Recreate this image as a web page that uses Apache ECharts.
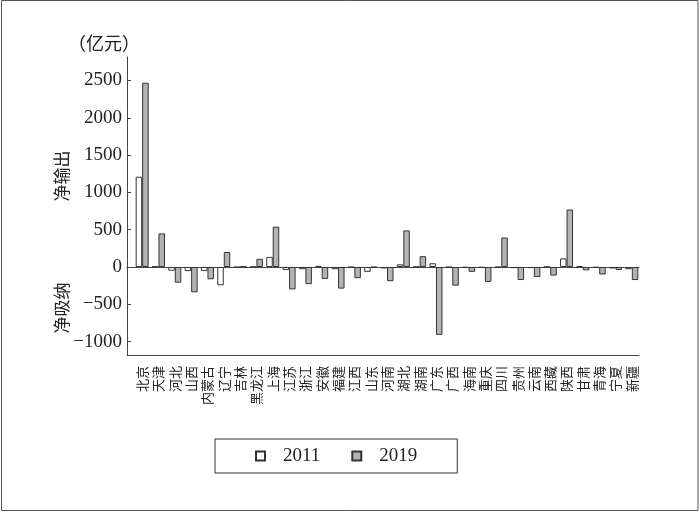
<!DOCTYPE html>
<html>
<head>
<meta charset="utf-8">
<script src="https://cdn.jsdelivr.net/npm/echarts@6/dist/echarts.min.js"></script>
<style>
html,body{margin:0;padding:0;background:#fff;}
#c{width:700px;height:513px;}
</style>
</head>
<body>
<div id="c"></div>
<script>
const provinces = ['北京','天津','河北','山西','内蒙古','辽宁','吉林','黑龙江','上海','江苏','浙江','安徽','福建','江西','山东','河南','湖北','湖南','广东','广西','海南','重庆','四川','贵州','云南','西藏','陕西','甘肃','青海','宁夏','新疆'];
const values2011 = [1210, 5, -50, -55, -55, -245, -5, 0, 135, -40, -30, 15, -30, -5, -65, -20, 35, 0, 50, -5, -10, -10, -5, -15, -15, 0, 115, 10, -10, -20, -30];
const values2019 = [2470, 450, -210, -340, -165, 200, 5, 110, 540, -300, -230, -160, -290, -150, -5, -190, 490, 145, -910, -250, -65, -200, 395, -175, -135, -115, 770, -45, -100, -40, -175];
const yTicks = [-1000, -500, 0, 500, 1000, 1500, 2000, 2500];
const seriesNames = ['2011', '2019'];

const FONT = "'Liberation Serif', 'Noto Sans CJK SC', serif";
const CJK = "'Noto Sans CJK SC', sans-serif";
const AX = '#444';
const yMin = -1180, yMax = 2815;

const chart = echarts.init(document.getElementById('c'), null, {renderer: 'canvas'});
chart.setOption({
  backgroundColor: '#fff',
  animation: false,
  grid: [
    {left: 134, right: 60, top: 57, bottom: 158},
    {left: 127, right: 61, top: 57, bottom: 158}
  ],
  legend: {
    data: seriesNames,
    left: 215, top: 439,
    padding: [7, 40, 7, 40],
    borderColor: '#333', borderWidth: 1,
    itemWidth: 9, itemHeight: 9, itemGap: 31,
    icon: 'rect',
    textStyle: {fontFamily: FONT, fontSize: 19, color: '#222', lineHeight: 20, padding: [0, 0, 0, 13]}
  },
  xAxis: [
    {
      type: 'category', gridIndex: 0, data: provinces, position: 'bottom',
      axisLine: {show: false}, axisTick: {show: false},
      axisLabel: {rotate: 90, interval: 0, margin: 11, fontSize: 13, fontFamily: CJK, color: '#222'}
    },
    {
      type: 'value', gridIndex: 1, min: 0, max: 1, position: 'bottom',
      axisLine: {show: true, onZero: false, lineStyle: {color: AX, width: 1}},
      axisTick: {show: false}, axisLabel: {show: false}, splitLine: {show: false}
    },
    {
      type: 'value', gridIndex: 1, min: 0, max: 1, position: 'top',
      axisLine: {show: true, onZero: true, lineStyle: {color: AX, width: 1}},
      axisTick: {show: false}, axisLabel: {show: false}, splitLine: {show: false}
    }
  ],
  yAxis: [
    {
      type: 'value', gridIndex: 0, min: yMin, max: yMax,
      axisLine: {show: false}, axisTick: {show: false}, axisLabel: {show: false}, splitLine: {show: false}
    },
    {
      type: 'value', gridIndex: 1, min: yMin, max: yMax,
      axisLine: {show: true, lineStyle: {color: AX, width: 1}},
      axisTick: {show: true, inside: true, length: 4, customValues: yTicks, lineStyle: {color: AX}},
      axisLabel: {customValues: yTicks, margin: 5, fontFamily: FONT, fontSize: 19, color: '#222',
        formatter: v => (v < 0 ? '\u2212' + Math.abs(v) : String(v))},
      splitLine: {show: false}
    }
  ],
  series: [
    {
      name: seriesNames[0], type: 'bar', xAxisIndex: 0, yAxisIndex: 0,
      data: values2011, barWidth: 6.5, barGap: '0%',
      itemStyle: {color: '#ffffff', borderColor: '#333', borderWidth: 1}
    },
    {
      name: seriesNames[1], type: 'bar', xAxisIndex: 0, yAxisIndex: 0,
      data: values2019, barWidth: 6.5, barGap: '0%',
      itemStyle: {color: '#b3b3b3', borderColor: '#333', borderWidth: 1}
    }
  ],
  graphic: [
    {type: 'rect', shape: {x: 1.5, y: 0.5, width: 696.5, height: 510}, style: {fill: 'none', stroke: '#555', lineWidth: 1}, silent: true},
    {type: 'text', left: 68, top: 34, style: {text: '（亿元）', font: "18px 'Noto Sans CJK SC'", fill: '#222'}},
    {type: 'text', x: 62, y: 176, rotation: Math.PI / 2, style: {text: '净输出', font: "17px 'Noto Sans CJK SC'", fill: '#222', align: 'center', verticalAlign: 'middle'}},
    {type: 'text', x: 62, y: 308, rotation: Math.PI / 2, style: {text: '净吸纳', font: "17px 'Noto Sans CJK SC'", fill: '#222', align: 'center', verticalAlign: 'middle'}}
  ]
});
</script>
</body>
</html>
